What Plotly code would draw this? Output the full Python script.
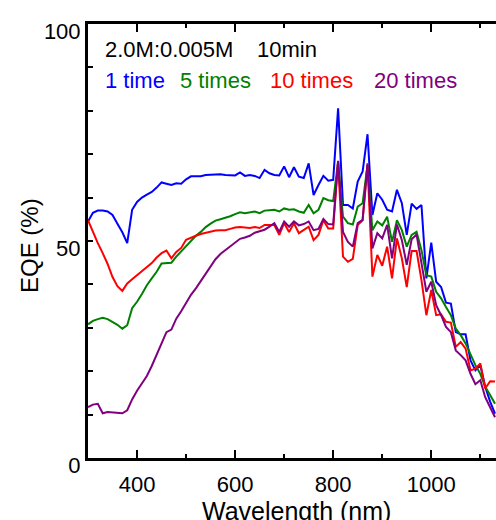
import plotly.graph_objects as go

# Wavelength grid (nm)
wavelength = list(range(300, 1140, 10))

# EQE (%) for each number of cycles
eqe_1_time = [
    54.5, 56.5, 57.0, 57.0, 56.8, 56.0, 54.0, 52.0, 49.5, 57.2,
    59.0, 60.0, 60.7, 61.3, 62.3, 63.5, 63.2, 62.9, 63.3, 63.2,
    64.2, 64.9, 64.9, 64.9, 65.2, 65.3, 65.4, 65.4, 65.2, 65.1,
    65.1, 65.8, 65.0, 65.2, 65.0, 64.5, 66.4, 65.6, 65.2, 65.1,
    67.2, 64.7, 67.0, 64.8, 64.5, 67.9, 60.6, 62.9, 65.0, 63.9,
    64.1, 80.6, 58.3, 58.3, 57.5, 63.7, 66.0, 74.6, 56.0, 61.0,
    59.5, 57.2, 56.8, 61.8, 58.7, 51.4, 58.6, 57.4, 58.3, 41.4,
    49.6, 40.6, 39.4, 35.8, 35.6, 29.0, 28.5, 28.5, 22.5, 20.2,
    21.4, 16.4, 13.0, 10.2,
]
eqe_5_times = [
    30.8, 31.6, 32.0, 32.3, 32.0, 31.4, 30.7, 29.8, 30.6, 34.5,
    36.0, 37.8, 39.8, 41.4, 42.9, 44.8, 44.9, 45.0, 46.4, 47.6,
    48.8, 50.2, 51.2, 52.1, 53.2, 54.0, 54.7, 55.0, 55.3, 55.7,
    56.2, 56.6, 56.4, 56.6, 56.8, 56.4, 57.0, 57.1, 57.2, 56.8,
    57.5, 57.2, 57.3, 56.8, 56.5, 58.3, 56.4, 57.2, 59.9, 59.4,
    59.2, 68.3, 55.6, 54.1, 53.8, 57.9, 58.7, 67.5, 52.5, 54.5,
    53.6, 55.6, 49.8, 54.8, 52.5, 48.7, 51.4, 52.1, 47.9, 42.1,
    41.8, 38.3, 36.8, 34.8, 32.9, 29.8, 28.3, 26.4, 23.7, 21.4,
    19.4, 16.4, 14.5, 12.5,
]
eqe_10_times = [
    54.8, 52.1, 49.5, 47.2, 44.7, 41.7, 39.6, 38.5, 40.2, 41.2,
    42.1, 43.0, 43.8, 44.9, 46.2, 47.2, 47.8, 46.0, 47.5, 48.4,
    50.3, 50.8, 51.2, 51.6, 51.9, 52.1, 52.4, 52.5, 52.5, 52.8,
    53.1, 53.2, 53.1, 53.0, 53.2, 53.0, 53.7, 53.7, 53.7, 51.4,
    54.1, 52.1, 54.1, 51.8, 52.5, 53.3, 50.2, 51.4, 54.8, 52.9,
    52.9, 68.3, 46.4, 45.2, 45.9, 53.7, 54.8, 67.5, 41.8, 46.8,
    44.3, 48.7, 41.4, 50.6, 46.0, 39.4, 47.7, 47.7, 41.0, 32.9,
    38.7, 32.9, 33.1, 31.4, 31.2, 25.6, 26.7, 25.2, 20.2, 20.6,
    21.8, 16.0, 17.7, 17.6,
]
eqe_20_times = [
    11.7, 12.3, 12.5, 10.3, 10.6, 10.5, 10.4, 10.3, 11.0, 13.5,
    15.5, 17.2, 18.9, 21.2, 23.7, 26.4, 29.0, 29.6, 32.1, 33.8,
    35.8, 37.6, 39.1, 40.8, 42.7, 44.4, 45.8, 47.0, 47.9, 48.9,
    49.8, 50.5, 50.8, 51.2, 51.9, 52.2, 52.6, 53.3, 54.1, 52.1,
    54.5, 53.3, 54.5, 53.6, 53.9, 54.5, 52.5, 52.8, 55.1, 53.9,
    53.8, 68.5, 52.1, 49.8, 48.7, 54.1, 54.9, 67.9, 48.3, 51.8,
    50.6, 53.7, 46.0, 53.8, 50.2, 44.5, 50.4, 51.5, 44.8, 38.3,
    40.6, 35.2, 32.9, 30.2, 29.0, 24.8, 23.7, 22.5, 19.4, 17.0,
    17.9, 14.0, 11.7, 9.4,
]

series_names = ["1 time", "5 times", "10 times", "20 times"]
series_colors = ["#0000FF", "#008000", "#FF0000", "#800080"]
series_values = [eqe_1_time, eqe_5_times, eqe_10_times, eqe_20_times]
label_x = [330, 483, 667, 879]

y_ticks = list(range(0, 101, 10))
y_tick_text = [str(v) if v in (0, 50, 100) else "" for v in y_ticks]

FONT = "Liberation Sans, Arial, sans-serif"

fig = go.Figure()
for name, color, values in zip(series_names, series_colors, series_values):
    fig.add_trace(go.Scatter(
        x=wavelength, y=values, mode="lines", name=name,
        line=dict(color=color, width=2),
    ))

annotations = [
    dict(x=330, y=94.1, xref="x", yref="y", text="2.0M:0.005M",
         xanchor="left", yanchor="middle", showarrow=False,
         font=dict(size=22, color="black", family=FONT)),
    dict(x=640, y=94.1, xref="x", yref="y", text="10min",
         xanchor="left", yanchor="middle", showarrow=False,
         font=dict(size=22, color="black", family=FONT)),
]
for name, color, lx in zip(series_names, series_colors, label_x):
    annotations.append(dict(
        x=lx, y=87, xref="x", yref="y", text=name,
        xanchor="left", yanchor="middle", showarrow=False,
        font=dict(size=22, color=color, family=FONT)))

# axis titles
annotations.append(dict(
    x=0.512, y=-0.123, xref="paper", yref="paper", text="Wavelength (nm)",
    xanchor="center", yanchor="middle", showarrow=False,
    font=dict(size=25, color="black", family=FONT)))
annotations.append(dict(
    x=-0.143, y=0.49, xref="paper", yref="paper", text="EQE (%)",
    textangle=-90, xanchor="center", yanchor="middle", showarrow=False,
    font=dict(size=24, color="black", family=FONT)))

fig.update_layout(
    width=496, height=520,
    margin=dict(l=88, r=0, t=24, b=62, autoexpand=False),
    paper_bgcolor="white", plot_bgcolor="white",
    showlegend=False,
    font=dict(family=FONT, size=22, color="black"),
    annotations=annotations,
)
fig.update_xaxes(
    range=[300, 1132], tickvals=[400, 600, 800, 1000],
    ticks="inside", ticklen=8, tickwidth=2, tickcolor="black",
    minor=dict(tickvals=[300, 500, 700, 900, 1100], ticks="inside",
               ticklen=4, tickwidth=2, tickcolor="black"),
    showline=True, linewidth=3, linecolor="black", mirror="ticks",
    showgrid=False, zeroline=False,
    tickfont=dict(size=22, family=FONT),
    ticklabelstandoff=5,
)
fig.update_yaxes(
    range=[0, 100], tickvals=y_ticks, ticktext=y_tick_text,
    ticks="inside", ticklen=5, tickwidth=2, tickcolor="black",
    showline=True, linewidth=3, linecolor="black", mirror=False,
    showgrid=False, zeroline=False,
    tickfont=dict(size=22, family=FONT),
    ticklabelshift=7,
)

fig.write_html("out.html")
